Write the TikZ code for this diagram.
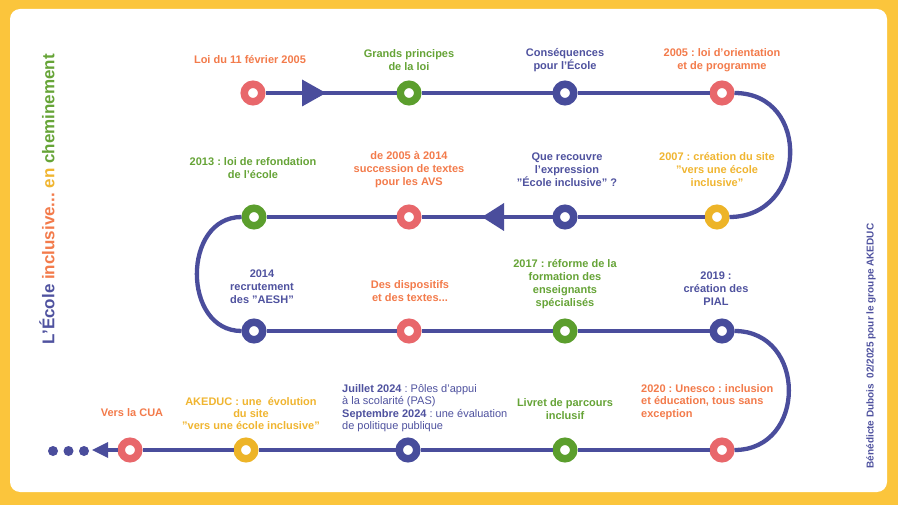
\documentclass[tikz,border=0pt]{standalone}
\usepackage{fontspec}
\setmainfont{Liberation Sans}
\frenchspacing
\definecolor{bgy}{HTML}{FBC53C}
\definecolor{trackc}{HTML}{4A4D9C}
\definecolor{cr}{HTML}{E8676B}
\definecolor{cg}{HTML}{5B9E2D}
\definecolor{cb}{HTML}{474C9B}
\definecolor{cy}{HTML}{EDB428}
\definecolor{to}{HTML}{F37B4B}
\definecolor{tg}{HTML}{66A437}
\definecolor{tb}{HTML}{4F529F}
\definecolor{ty}{HTML}{F0B530}
\begin{document}
\begin{tikzpicture}[x=1pt,y=-1pt,
  station/.style={circle,line width=7.5pt,minimum size=17.5pt,inner sep=0pt,fill=white},
  track/.style={draw=trackc,line width=4.3pt},
  tip/.style={fill=trackc},
  lbl/.style={font=\bfseries\fontsize{11}{13}\selectfont,align=center,inner sep=0pt},
  lblw/.style={font=\fontsize{11}{12.3}\selectfont,align=left,inner sep=0pt,anchor=west},
]
\useasboundingbox (0,0) rectangle (898,505);
\fill[bgy] (0,0) rectangle (898,505);
\fill[white,rounded corners=10pt] (10,9) rectangle (887,492);

% stations
\node[station,draw=cr] (a1) at (253,93) {};
\node[station,draw=cg] (a2) at (409,93) {};
\node[station,draw=cb] (a3) at (565,93) {};
\node[station,draw=cr] (a4) at (722,93) {};
\node[station,draw=cy] (b1) at (717,217) {};
\node[station,draw=cb] (b2) at (565,217) {};
\node[station,draw=cr] (b3) at (409,217) {};
\node[station,draw=cg] (b4) at (254,217) {};
\node[station,draw=cb] (c1) at (254,331) {};
\node[station,draw=cr] (c2) at (409,331) {};
\node[station,draw=cg] (c3) at (565,331) {};
\node[station,draw=cb] (c4) at (722,331) {};
\node[station,draw=cr] (d1) at (722,450) {};
\node[station,draw=cg] (d2) at (565,450) {};
\node[station,draw=cb] (d3) at (408,450) {};
\node[station,draw=cy] (d4) at (246,450) {};
\node[station,draw=cr] (d5) at (130,450) {};
\coordinate (dend) at (105,450);

% track
\draw[track] (a1) -- (a2) -- (a3) -- (a4);
\draw[track] (a4) .. controls (812,93) and (807,217) .. (b1);
\draw[track] (b1) -- (b2) -- (b3) -- (b4);
\draw[track] (b4) .. controls (182,217) and (182,331) .. (c1);
\draw[track] (c1) -- (c2) -- (c3) -- (c4);
\draw[track] (c4) .. controls (807,331) and (807,450) .. (d1);
\draw[track] (d1) -- (d2) -- (d3) -- (d4) -- (d5) -- (dend);

% arrow heads
\fill[tip] (302,79.5) -- (326,93) -- (302,106.5) -- cycle;
\fill[tip] (504,203) -- (482,217) -- (504,231) -- cycle;
\fill[tip] (108,442) -- (92,450) -- (108,458) -- cycle;
\fill[tip] (84,451) circle (5);
\fill[tip] (68.5,451) circle (5);
\fill[tip] (53,451) circle (5);

% labels row 1
\node[lbl,text=to] (ta1) at (250,60) {Loi du 11 février 2005};
\node[lbl,text=tg] (ta2) at (409,60) {Grands principes\\de la loi};
\node[lbl,text=tb] (ta3) at (565,60) {Conséquences\\pour l'École};
\node[lbl,text=to] (ta4) at (722,60) {2005 : loi d'orientation\\et de programme};
% row 2
\node[lbl,text=tg] (tb4) at (253,168) {2013 : loi de refondation\\de l'école};
\node[lbl,text=to] (tb3) at (409,170) {de 2005 à 2014\\succession de textes\\pour les AVS};
\node[lbl,text=tb] (tb2) at (567,170) {Que recouvre\\l'expression\\"École inclusive" ?};
\node[lbl,text=ty] (tb1) at (717,170) {2007 : création du site\\"vers une école\\inclusive"};
% row 3
\node[lbl,text=tb] (tc1) at (262,287) {2014\\recrutement\\des "AESH"};
\node[lbl,text=to] (tc2) at (410,291) {Des dispositifs\\et des textes...};
\node[lbl,text=tg] (tc3) at (565,284) {2017 : réforme de la\\formation des\\enseignants\\spécialisés};
\node[lbl,text=tb] (tc4) at (716,289) {2019 :\\création des\\PIAL};
% row 4
\node[lbl,text=to] (td5) at (132,413) {Vers la CUA};
\node[lbl,text=ty,font=\bfseries\fontsize{11}{12}\selectfont] (td4) at (251,414) {AKEDUC : une\ \ évolution\\du site\\"vers une école inclusive"};
\node[lblw,text=tb] (td3) at (342,408) {\textbf{Juillet 2024} : Pôles d'appui\\à la scolarité (PAS)\\\textbf{Septembre 2024} : une évaluation\\de politique publique};
\node[lbl,text=tg] (td2) at (565,409) {Livret de parcours\\inclusif};
\node[lbl,text=to,align=left,anchor=west,font=\bfseries\fontsize{11}{12.3}\selectfont] (td1) at (641,402) {2020 : Unesco : inclusion\\et éducation, tous sans\\exception};

% side texts
\node[rotate=90,inner sep=0pt,font=\bfseries\fontsize{17}{20}\selectfont] (title) at (47,199)
  {\textcolor{tb}{L'École} \textcolor{to}{inclusive...} \textcolor{ty}{en} \textcolor{tg}{cheminement}};
\node[rotate=90,inner sep=0pt,text=tb,font=\bfseries\fontsize{10}{12}\selectfont] (credit) at (871,346)
  {Bénédicte Dubois\ \ 02/2025 pour le groupe AKEDUC};
\end{tikzpicture}
\end{document}
